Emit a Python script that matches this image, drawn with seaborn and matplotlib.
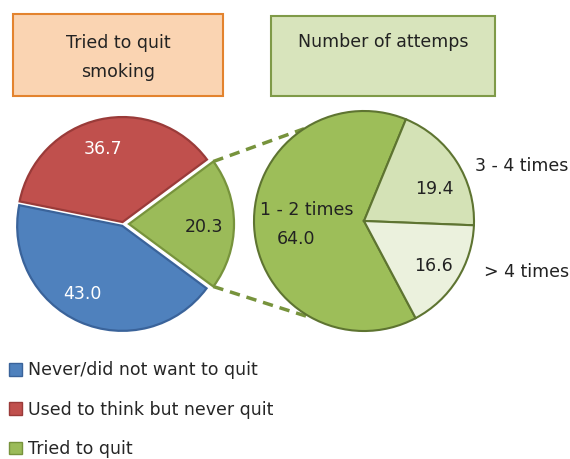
import numpy as np
import matplotlib
matplotlib.use("Agg")
import matplotlib.pyplot as plt
from matplotlib.patches import Rectangle, Patch
import seaborn as sns

# data
status_labels = ["Never/did not want to quit", "Used to think but never quit", "Tried to quit"]
status_values = [43.0, 36.7, 20.3]
status_colors = ["#4F81BD", "#C0504D", "#9BBB59"]
status_edges = ["#3A639A", "#9A3B39", "#77933C"]

attempt_labels = ["1 - 2 times", "3 - 4 times", "> 4 times"]
attempt_values = [64.0, 19.4, 16.6]
attempt_colors = ["#9DBE59", "#D4E2B6", "#EBF1DD"]

sns.set_style("white")
plt.rcParams['font.family'] = ['DejaVu Sans']
fs = 12.5
ink = "#222222"

fig = plt.figure(figsize=(5.7, 4.59), dpi=100)
ax = fig.add_axes([0, 0, 1, 1])

# left pie (pixel axes with y pointing down, so data angles run clockwise on screen)
left_c = (123, 224)
left_r = 105
w1, t1, a1 = ax.pie(status_values, colors=status_colors, startangle=36.54, counterclock=True,
                    center=left_c, radius=left_r, explode=[2, 2, 6],
                    autopct="%.1f", wedgeprops=dict(linewidth=1.6))
for w, ec in zip(w1, status_edges):
    w.set_edgecolor(ec)
for txt, col, pos in zip(a1, ["white", "white", ink], [(82, 294), (103, 149), (204, 227)]):
    txt.set_color(col)
    txt.set_fontsize(fs)
    txt.set_position(pos)

# right pie
right_c = (364, 221)
right_r = 110
w2, t2, a2 = ax.pie(attempt_values, colors=attempt_colors, startangle=62, counterclock=True,
                    center=right_c, radius=right_r,
                    autopct="%.1f", wedgeprops=dict(edgecolor="#5E7431", linewidth=1.5))
for txt, pos in zip(a2, [(296, 239), (434, 189), (433, 266)]):
    txt.set_fontsize(fs)
    txt.set_color(ink)
    txt.set_position(pos)

# pie() resets limits, so set the pixel frame afterwards
ax.set_xlim(0, 570)
ax.set_ylim(459, 0)
ax.set_aspect("equal")
ax.axis("off")

ax.text(307, 210, attempt_labels[0], ha="center", va="center", fontsize=fs, color=ink)
ax.text(568, 166, attempt_labels[1], ha="right", va="center", fontsize=fs, color=ink)
ax.text(569, 272, attempt_labels[2], ha="right", va="center", fontsize=fs, color=ink)

# title boxes
ax.add_patch(Rectangle((13, 14), 210, 82, facecolor="#FAD4B2", edgecolor="#E3832E", lw=1.5))
ax.text(118, 43, "Tried to quit", ha="center", va="center", fontsize=fs, color=ink)
ax.text(118, 72, "smoking", ha="center", va="center", fontsize=fs, color=ink)
ax.add_patch(Rectangle((271, 16), 224, 80, facecolor="#D8E4BC", edgecolor="#7F9A48", lw=1.5))
ax.text(383, 42, "Number of attemps", ha="center", va="center", fontsize=fs, color=ink)

# dashed connectors from the exploded wedge corners to the second pie
g = w1[2]
gx, gy = g.center
th1, th2 = np.deg2rad(g.theta1), np.deg2rad(g.theta2)
p_top = (gx + g.r * np.cos(th1), gy + g.r * np.sin(th1))
p_bot = (gx + g.r * np.cos(th2), gy + g.r * np.sin(th2))
q_top = (right_c[0] + right_r * np.cos(np.deg2rad(123)), right_c[1] - right_r * np.sin(np.deg2rad(123)))
q_bot = (right_c[0] + right_r * np.cos(np.deg2rad(242)), right_c[1] - right_r * np.sin(np.deg2rad(242)))
for p, q in [(p_top, q_top), (p_bot, q_bot)]:
    ax.plot([p[0], q[0]], [p[1], q[1]], ls=(0, (3, 2)), color="#77933C", lw=2.5, zorder=0)

handles = [Patch(facecolor=c, edgecolor=e, lw=1) for c, e in zip(status_colors, status_edges)]
ax.legend(handles, status_labels, loc="upper left", bbox_to_anchor=(0.003, 0.228),
          frameon=False, fontsize=fs, handlelength=0.75, handleheight=0.75,
          handletextpad=0.35, labelspacing=1.23, borderaxespad=0)

plt.savefig("out.png", dpi=100)
